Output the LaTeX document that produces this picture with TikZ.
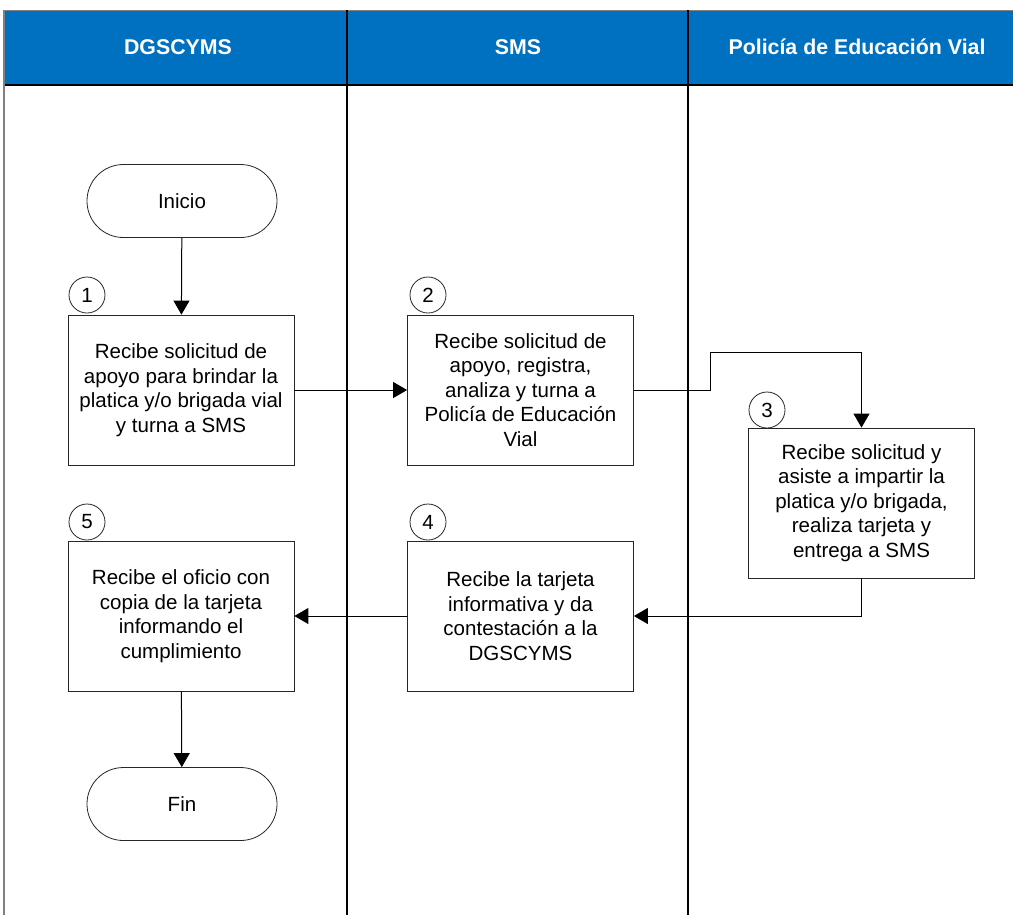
\documentclass[tikz,border=0pt]{standalone}
\usepackage{fontspec}
\setmainfont{Liberation Sans}
\usepackage{tikz}
\usetikzlibrary{arrows.meta, positioning}
\definecolor{laneblue}{HTML}{0070C0}

\begin{document}
\begin{tikzpicture}[
    x=0.75pt, y=-0.75pt,
    font=\fontsize{15.4}{18.4}\selectfont,
    box/.style={rectangle, draw=black!85, line width=0.6pt, minimum width=169.5pt, minimum height=112.5pt, align=center, inner sep=2pt},
    term/.style={rectangle, draw=black!85, line width=0.6pt, rounded corners=27.3pt, minimum width=142.5pt, minimum height=54.75pt},
    num/.style={circle, draw=black!85, line width=0.6pt, minimum size=27pt, inner sep=0pt},
    head/.style={font=\fontsize{16}{19}\selectfont\bfseries, text=white},
    arrow/.style={-{Triangle[length=10.5pt, width=12pt]}, line width=0.75pt}
]
    \useasboundingbox (0,0) rectangle (1013,915);

    % Lanes
    \fill[laneblue] (4,10) rectangle (1013,85);
    \draw[gray, line width=0.75pt] (4,10) -- (1013,10);
    \draw[line width=0.8pt] (4,85) -- (1013,85);
    \draw[gray, line width=0.8pt] (4,10) -- (4,915);
    \draw[line width=0.8pt] (347,10) -- (347,915);
    \draw[line width=0.8pt] (688,10) -- (688,915);
    \node[head] (dgscyms) at (178,47) {DGSCYMS};
    \node[head] (sms) at (518,47) {SMS};
    \node[head] (policia) at (857,47) {Policía de Educación Vial};

    % Start and end
    \node[term] (inicio) at (182,201) {Inicio};
    \node[term] (fin) at (182,804) {Fin};

    % Steps
    \node[box] (solicitud) at (181,390) {Recibe solicitud de\\apoyo para brindar la\\platica y/o brigada vial\\y turna a SMS};
    \node[box] (registra) at (520.5,390) {Recibe solicitud de\\apoyo, registra,\\analiza y turna a\\Policía de Educación\\Vial};
    \node[box] (asiste) at (861.5,503) {Recibe solicitud y\\asiste a impartir la\\platica y/o brigada,\\realiza tarjeta y\\entrega a SMS};
    \node[box] (contesta) at (520.5,616) {Recibe la tarjeta\\informativa y da\\contestación a la\\DGSCYMS};
    \node[box] (oficio) at (181,616) {Recibe el oficio con\\copia de la tarjeta\\informando el\\cumplimiento};

    % Step numbers
    \node[num] (n1) at (87,295) {1};
    \node[num] (n2) at (428,295) {2};
    \node[num] (n3) at (767,410) {3};
    \node[num] (n4) at (428,522) {4};
    \node[num] (n5) at (87,522) {5};

    \coordinate (bend) at (710,352);

    \draw[arrow] (inicio) -- (solicitud);
    \draw[arrow] (solicitud) -- (registra);
    \draw[arrow] (registra.east) -| (bend) -| (asiste.north);
    \draw[arrow] (asiste.south) |- (contesta.east);
    \draw[arrow] (contesta) -- (oficio);
    \draw[arrow] (oficio) -- (fin);
\end{tikzpicture}
\end{document}
